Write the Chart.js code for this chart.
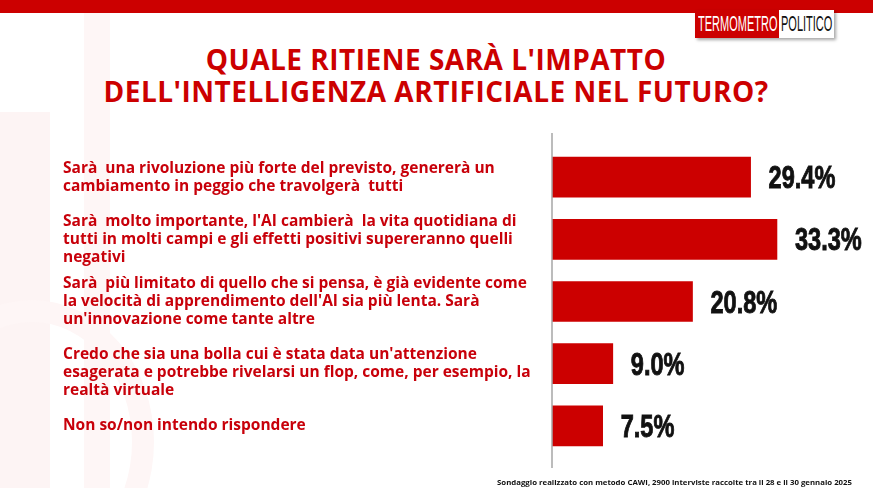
<!DOCTYPE html>
<html><head><meta charset="utf-8">
<script src="https://cdn.jsdelivr.net/npm/chart.js@4"></script>
<style>
html,body{margin:0;padding:0;background:#fff;}
#wrap{position:relative;width:873px;height:488px;overflow:hidden;background:#fff;}
#topbar{position:absolute;left:0;top:0;width:873px;height:13px;background:#cc0000;}
#deco0{position:absolute;left:0;top:112px;width:50px;height:376px;background:#fdf4f4;}
#deco1{position:absolute;left:84px;top:13px;width:26px;height:475px;background:#fef6f6;}
#deco2{position:absolute;left:-90px;top:300px;width:200px;height:240px;border-radius:50%;border:22px solid #fef6f6;}
#logo{position:absolute;left:695px;top:10px;height:28px;display:flex;box-shadow:2px 2px 3px rgba(0,0,0,0.35);font-family:"Liberation Sans","DejaVu Sans",sans-serif;font-size:22px;line-height:28px;}
#logo .a{background:#cc0000;color:#fff;width:84px;overflow:hidden;}
#logo .b{background:#fff;color:#111;width:55px;overflow:hidden;}
#logo span span{display:inline-block;transform:scaleX(0.5);transform-origin:0 50%;white-space:nowrap;}
#logo .a span{margin-left:3px;}
#logo .b span{margin-left:2px;}
#title{position:absolute;left:0;top:43px;width:872px;text-align:center;color:#cc0000;font-family:"Open Sans",sans-serif;font-weight:700;font-size:28px;line-height:32px;letter-spacing:0.5px;}
#foot{position:absolute;right:21px;top:477px;font-family:"Open Sans",sans-serif;font-weight:700;font-size:7.8px;color:#111;white-space:nowrap;}
canvas{position:absolute;left:0;top:0;}
</style></head>
<body><div id="wrap">
<div id="topbar"></div><div id="deco0"></div><div id="deco1"></div><div id="deco2"></div>
<div id="logo"><span class="a"><span>TERMOMETRO</span></span><span class="b"><span>POLITICO</span></span></div>
<div id="title">QUALE RITIENE SARÀ L'IMPATTO<br>DELL'INTELLIGENZA ARTIFICIALE NEL FUTURO?</div>
<canvas id="c" width="873" height="488"></canvas>
<div id="foot">Sondaggio realizzato con metodo CAWI, 2900 interviste raccolte tra il 28 e il 30 gennaio 2025</div>
</div>
<script>
const categories = [
  ["Sarà  una rivoluzione più forte del previsto, genererà un", "cambiamento in peggio che travolgerà  tutti"],
  ["Sarà  molto importante, l'AI cambierà  la vita quotidiana di", "tutti in molti campi e gli effetti positivi supereranno quelli", "negativi"],
  ["Sarà  più limitato di quello che si pensa, è già evidente come", "la velocità di apprendimento dell'AI sia più lenta. Sarà", "un'innovazione come tante altre"],
  ["", "Credo che sia una bolla cui è stata data un'attenzione", "esagerata e potrebbe rivelarsi un flop, come, per esempio, la", "realtà virtuale"],
  ["Non so/non intendo rispondere"]
];
const values = [29.4, 33.3, 20.8, 9.0, 7.5];
const valueLabels = ["29.4%", "33.3%", "20.8%", "9.0%", "7.5%"];

const axisLine = {
  id: 'axisLine',
  afterDatasetsDraw(chart) {
    const ctx = chart.ctx, x = chart.scales.x.getPixelForValue(0);
    ctx.save();
    ctx.strokeStyle = '#a6a6a6'; ctx.lineWidth = 1.5;
    ctx.beginPath(); ctx.moveTo(x, chart.chartArea.top - 13); ctx.lineTo(x, chart.chartArea.bottom + 11); ctx.stroke();
    ctx.restore();
  }
};
const valueLabelPlugin = {
  id: 'valueLabels',
  afterDatasetsDraw(chart) {
    const ctx = chart.ctx;
    const meta = chart.getDatasetMeta(0);
    meta.data.forEach((bar, i) => {
      ctx.save();
      ctx.fillStyle = '#111';
      ctx.strokeStyle = '#111';
      ctx.lineWidth = 0.9;
      ctx.font = 'bold 31px "Liberation Sans", Arial, sans-serif';
      ctx.textBaseline = 'alphabetic';
      ctx.textAlign = 'left';
      ctx.translate(bar.x + 18, bar.y + 11);
      ctx.scale(0.76, 1);
      ctx.fillText(valueLabels[i], 0, 0);
      ctx.strokeText(valueLabels[i], 0, 0);
      ctx.restore();
    });
  }
};

new Chart(document.getElementById('c'), {
  type: 'bar',
  data: {
    labels: categories,
    datasets: [{ data: values, backgroundColor: '#cc0000', borderWidth: 0, barThickness: 40 }]
  },
  options: {
    indexAxis: 'y',
    responsive: false,
    animation: false,
    layout: { padding: { top: 146, bottom: 31, left: 63, right: 17 } },
    plugins: { legend: { display: false }, tooltip: { enabled: false } },
    scales: {
      x: { display: false, min: 0, max: 45 },
      y: {
        grid: { display: false, drawTicks: false },
        border: { display: false },
        ticks: {
          autoSkip: false,
          crossAlign: 'far',
          padding: 0,
          color: '#c8000a',
          font: { family: '"Open Sans", sans-serif', weight: 'bold', size: 15.5, lineHeight: 1.16 }
        },
        afterFit(scale) { scale.width = 489; }
      }
    }
  },
  plugins: [axisLine, valueLabelPlugin]
});
</script>
</body></html>
